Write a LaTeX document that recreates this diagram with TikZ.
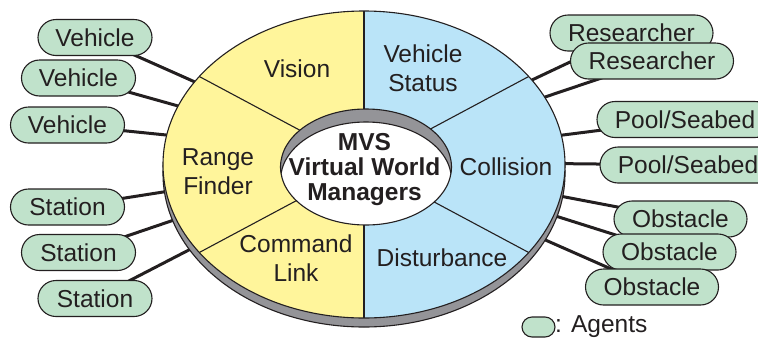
\documentclass[tikz,border=0pt]{standalone}
\usepackage{fontspec}
\setmainfont{Liberation Sans}
\usetikzlibrary{shapes.misc}
\pgfdeclarelayer{bg}
\pgfsetlayers{bg,main}
\definecolor{ink}{RGB}{35,31,32}
\definecolor{faceY}{RGB}{255,245,155}
\definecolor{faceB}{RGB}{186,228,248}
\definecolor{agentG}{RGB}{192,226,203}
\definecolor{rimG}{RGB}{148,148,152}
\begin{document}
\begin{tikzpicture}[x=1pt,y=-1pt,
  txt/.style={inner sep=0pt, align=center, text=ink, font=\fontsize{24.5}{29}\selectfont},
  bold/.style={inner sep=0pt, align=center, text=ink, font=\bfseries\fontsize{24.5}{25}\selectfont},
  agent/.style={rounded rectangle, draw=ink, line width=1.1pt, fill=agentG,
    minimum height=36pt, inner sep=0pt, text=ink, font=\fontsize{24.5}{29}\selectfont},
  link/.style={draw=ink, line width=3pt},
  spoke/.style={draw=ink, line width=1.1pt},
  rim/.style={draw=ink, line width=1.1pt}]
\useasboundingbox (0,0) rectangle (758,338);

% ---- the disk: rim, two coloured halves, spokes, central well ----
\coordinate (c) at (364,164.5);
\coordinate (w) at (366,167);
\fill[rimG] (364,173.5) ellipse [x radius=201pt, y radius=153.5pt];
\draw[rim] (364,173.5) ellipse [x radius=201pt, y radius=153.5pt];
\begin{scope}
  \clip (c) ellipse [x radius=201pt, y radius=153.5pt];
  \fill[faceY] (0,0) rectangle (364,338);
  \fill[faceB] (364,0) rectangle (758,338);
\end{scope}
\draw[rim] (c) ellipse [x radius=201pt, y radius=153.5pt];

\coordinate (sT)  at (364,11);
\coordinate (sB)  at (364,318);
\coordinate (sUL) at (199.3,76.5);
\coordinate (sUR) at (528.7,76.5);
\coordinate (sLL) at (199.3,252.5);
\coordinate (sLR) at (528.7,252.5);
\foreach \s in {sT,sB,sUL,sUR,sLL,sLR} \draw[spoke] (c) -- (\s);

\fill[rimG] (w) ellipse [x radius=85.5pt, y radius=58pt];
\begin{scope}
  \clip (w) ellipse [x radius=85.5pt, y radius=58pt];
  \fill[white] (366,180) ellipse [x radius=85.5pt, y radius=58pt];
  \draw[rim] (366,180) ellipse [x radius=85.5pt, y radius=58pt];
\end{scope}
\draw[rim] (w) ellipse [x radius=85.5pt, y radius=58pt];

% ---- labels on the disk ----
\node[bold] (mvs) at (364.5,170) {MVS\\Virtual World\\Managers};
\node[txt] (vision) at (297,69) {Vision};
\node[txt] (status) at (423,68) {Vehicle\\Status};
\node[txt] (range) at (218,172) {Range\\Finder};
\node[txt] (coll) at (506,167) {Collision};
\node[txt] (cmd) at (296,258) {Command\\Link};
\node[txt] (dist) at (442,258) {Disturbance};

% ---- agents ----
\node[agent, minimum width=114pt] (v1) at (95,37.5) {Vehicle};
\node[agent, minimum width=114pt] (v2) at (78.5,78) {Vehicle};
\node[agent, minimum width=114pt] (v3) at (67.5,125) {Vehicle};
\node[agent, minimum width=114pt] (st1) at (67.5,207) {Station};
\node[agent, minimum width=114pt] (st2) at (78.5,252.5) {Station};
\node[agent, minimum width=114pt] (st3) at (95,298.5) {Station};
\node[agent, minimum width=163pt] (r1) at (631.5,33) {Researcher};
\node[agent, minimum width=163pt] (r2) at (652,61) {Researcher};
\node[agent, minimum width=176pt] (p1) at (685,119.5) {Pool/Seabed};
\node[agent, minimum width=176pt] (p2) at (688,165) {Pool/Seabed};
\node[agent, minimum width=133pt] (o1) at (680.5,219) {Obstacle};
\node[agent, minimum width=133pt] (o2) at (669.5,252) {Obstacle};
\node[agent, minimum width=133pt] (o3) at (652,287) {Obstacle};

% ---- legend ----
\node[agent, minimum width=33pt, minimum height=20pt] (key) at (538.5,327) {};
\node[txt, anchor=west] (keytxt) at (555,327) {: Agents};

% ---- links from agents into the disk ----
\coordinate (eV1) at (208.7,88.1);
\coordinate (eV2) at (192.4,110);
\coordinate (eV3) at (181,136.5);
\coordinate (eS1) at (177.8,189.7);
\coordinate (eS2) at (182.2,217.2);
\coordinate (eS3) at (198.3,245.1);
\coordinate (eR1) at (518.4,86.4);
\coordinate (eR2) at (530.8,101.8);
\coordinate (eP1) at (548.1,136.9);
\coordinate (eP2) at (551,163.5);
\coordinate (eO1) at (550.3,194.2);
\coordinate (eO2) at (547.7,213.5);
\coordinate (eO3) at (536.3,236);
\begin{pgfonlayer}{bg}
  \foreach \a/\e in {v1/eV1,v2/eV2,v3/eV3,st1/eS1,st2/eS2,st3/eS3,
                     r1/eR1,r2/eR2,p1/eP1,p2/eP2,o1/eO1,o2/eO2,o3/eO3}
    \draw[link] (\a.center) -- (\e);
\end{pgfonlayer}
\end{tikzpicture}
\end{document}
